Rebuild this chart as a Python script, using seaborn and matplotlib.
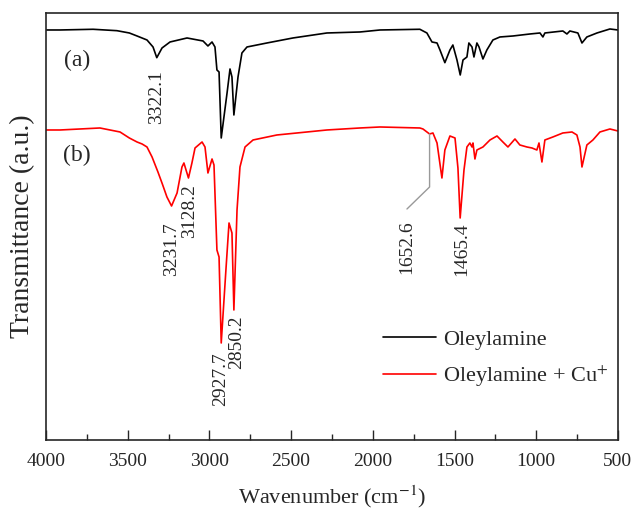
import matplotlib
matplotlib.use("Agg")
import matplotlib.pyplot as plt
from matplotlib.ticker import MultipleLocator
import seaborn as sns
import pandas as pd

# FTIR spectra: wavenumber (cm^-1) and transmittance (a.u., offset stacked)
wn_oleylamine = [4000, 3914, 3712, 3566, 3490, 3443, 3382, 3345, 3322.1, 3290, 3241,
                 3137, 3039, 3009, 2984, 2966, 2954, 2941, 2927.7, 2892, 2874,
                 2862, 2850.2, 2825, 2801, 2770, 2648, 2489, 2281, 2079, 2060,
                 1956, 1712, 1669, 1638, 1607, 1589, 1559, 1528, 1510, 1485,
                 1465, 1448, 1424, 1412, 1393, 1381, 1363, 1350, 1326, 1302,
                 1265, 1222, 1142, 1038, 977, 959, 947, 837, 812, 794,
                 745, 720, 690, 628, 549, 500]
tr_oleylamine = [410, 410, 410.7, 409.3, 407, 404, 400, 393, 382.3, 392, 398,
                 402, 399, 394, 398, 393, 370, 368, 302, 347, 371,
                 363, 325, 363, 387, 393, 397, 402, 407, 408, 408.3,
                 410, 410.7, 407, 398, 397, 390, 377.3, 390, 395, 380,
                 365, 380, 383, 397, 393, 383, 397, 393, 381, 390,
                 400, 403, 404, 406, 407, 403, 407, 409, 406, 409,
                 407, 397, 403, 407, 411, 410]

wn_oleylamine_cu = [4000, 3914, 3670, 3547, 3490, 3443, 3412, 3382, 3351, 3315, 3288, 3260, 3231.7,
                    3198, 3168, 3156, 3128.2, 3107, 3088, 3045, 3027, 3009, 2984,
                    2972, 2954, 2941, 2927.7, 2899, 2880, 2862, 2850.2, 2831, 2813,
                    2782, 2733, 2587, 2281, 2079, 1956, 1712, 1693, 1652.6, 1632,
                    1607, 1577, 1559, 1528, 1497, 1479, 1465.4, 1442, 1424, 1406,
                    1393, 1387, 1375, 1363, 1326, 1283, 1240, 1204, 1173, 1130,
                    1100, 1057, 1026, 996, 983, 965, 947, 898, 837, 781,
                    751, 732, 720, 690, 653, 610, 549, 500]
tr_oleylamine_cu = [310, 310, 312, 308, 302, 298, 296, 293, 283, 268, 256, 243, 234,
                    247, 273, 277, 262, 277, 292, 298, 293, 267, 281,
                    275, 190, 183, 97, 170, 217, 207, 130, 230, 273,
                    293, 300, 305, 310, 312, 313, 312, 311, 306, 307,
                    297, 262, 290, 304, 302, 272, 222, 270, 293, 297,
                    293, 297, 281, 290, 293, 300, 304, 298, 293, 301,
                    295, 293, 292, 290, 297, 278, 300, 303, 307, 308,
                    305, 293, 273, 295, 300, 308, 311, 309]

series_names = ["Oleylamine", "Oleylamine + Cu$^{+}$"]
series_colors = ["black", "#ff0000"]

peak_labels = ["3322.1", "3231.7", "3128.2", "2927.7", "2850.2", "1652.6", "1465.4"]
peak_label_x = [3322.1, 3229, 3119, 2930, 2831, 1791, 1455]
peak_label_top = [370, 218, 256, 88, 125, 220, 217]

sns.set_style("ticks")
plt.rcParams["font.family"] = ["Liberation Serif", "DejaVu Serif"]
plt.rcParams["mathtext.fontset"] = "stix"

df = pd.concat([
    pd.DataFrame({"Wavenumber": wn_oleylamine, "T": tr_oleylamine, "Sample": series_names[0]}),
    pd.DataFrame({"Wavenumber": wn_oleylamine_cu, "T": tr_oleylamine_cu, "Sample": series_names[1]}),
])

fig = plt.figure(figsize=(6.39, 5.13), dpi=100)
ax = fig.add_axes([0.072, 0.1423, 0.895, 0.8324])

sns.lineplot(data=df, x="Wavenumber", y="T", hue="Sample", palette=series_colors,
             hue_order=series_names, sort=False, estimator=None, linewidth=1.2, ax=ax)

ax.set_xlim(4000, 500)
ax.set_ylim(0, 427)
ax.xaxis.set_major_locator(MultipleLocator(500))
ax.xaxis.set_minor_locator(MultipleLocator(250))
ax.tick_params(axis="x", which="major", direction="in", length=7, width=1.0,
               labelsize=14, pad=9, top=False)
ax.tick_params(axis="x", which="minor", direction="in", length=4, width=1.0, top=False)
ax.set_yticks([])
for sp in ax.spines.values():
    sp.set_linewidth(1.2)
    sp.set_visible(True)

ax.set_xlabel("Wavenumber (cm$^{-1}$)", fontsize=16, labelpad=10)
ax.set_ylabel("Transmittance (a.u.)", fontsize=20, labelpad=8)

# peak annotations
for lab, px, top in zip(peak_labels, peak_label_x, peak_label_top):
    ax.text(px, top, lab, rotation=90, ha="center", va="top", fontsize=14)

# leader line for the weak 1652.6 shoulder
ax.plot([1652.6, 1652.6, 1791], [306, 253, 231], color="#999999", linewidth=1.0)

ax.text(3810, 380, "(a)", fontsize=17, ha="center", va="center")
ax.text(3810, 285, "(b)", fontsize=17, ha="center", va="center")

leg = ax.legend(loc="upper left", bbox_to_anchor=(0.57, 0.285), frameon=False,
                fontsize=16, handlelength=2.4, labelspacing=0.6, borderpad=0,
                handletextpad=0.3)

fig.savefig("out.png", dpi=100)
